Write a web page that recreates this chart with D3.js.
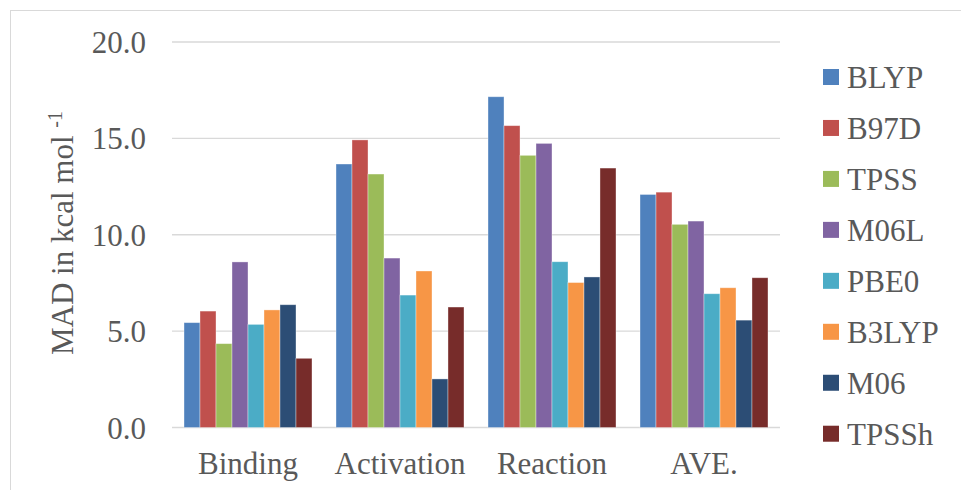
<!DOCTYPE html>
<html>
<head>
<meta charset="utf-8">
<script src="https://cdn.jsdelivr.net/npm/d3@7"></script>
<style>
  #chart text { font-family: "Liberation Serif", "Times New Roman", Times, serif !important; }
</style>
</head>
<body style="margin:0">
<svg id="chart" width="961" height="490"></svg>
<script>
// Mean absolute deviation per functional, by reaction property
const categories = ["Binding", "Activation", "Reaction", "AVE."];
const methods = ["BLYP", "B97D", "TPSS", "M06L", "PBE0", "B3LYP", "M06", "TPSSh"];
const colors = ["#4F81BD", "#C0504D", "#9BBB59", "#8064A2", "#4BACC6", "#F79646", "#2C4D75", "#772C2A"];

const BLYP  = [5.44, 13.67, 17.16, 12.09];
const B97D  = [6.04, 14.92, 15.66, 12.21];
const TPSS  = [4.35, 13.15, 14.12, 10.54];
const M06L  = [8.59, 8.79, 14.74, 10.71];
const PBE0  = [5.35, 6.87, 8.60, 6.94];
const B3LYP = [6.10, 8.12, 7.52, 7.25];
const M06   = [6.37, 2.52, 7.81, 5.57];
const TPSSh = [3.59, 6.25, 13.46, 7.77];

const yTicks = [0, 5, 10, 15, 20];
const yTitle = "MAD in kcal mol";
const yTitleSup = "-1";

const seriesValues = [BLYP, B97D, TPSS, M06L, PBE0, B3LYP, M06, TPSSh];

const serifFont = "Liberation Serif";
const textColor = "#595959";
const fontSize = 31;

// apply the serif face to a text selection, with inline priority
function serif(sel) {
  sel.attr("font-family", serifFont).style("font-family", serifFont, "important");
}

const svg = d3.select("#chart");

// outer chart frame
svg.append("rect")
  .attr("x", 10.5).attr("y", 10.5)
  .attr("width", 1000).attr("height", 600)
  .attr("fill", "none").attr("stroke", "#D9D9D9").attr("stroke-width", 1);

const plot = { left: 172, right: 780, top: 42, bottom: 427.5 };

const x0 = d3.scaleBand().domain(categories)
  .range([plot.left, plot.right]).paddingInner(0.158).paddingOuter(0.079);
const x1 = d3.scaleBand().domain(methods).range([0, x0.bandwidth()]).padding(0);
const y = d3.scaleLinear().domain([0, 20]).range([plot.bottom, plot.top]);

// gridlines
svg.append("g").selectAll("line").data(yTicks).join("line")
  .attr("x1", plot.left).attr("x2", plot.right)
  .attr("y1", d => y(d)).attr("y2", d => y(d))
  .attr("stroke", "#D9D9D9").attr("stroke-width", 1.4);

// bars
const groups = svg.append("g").selectAll("g").data(categories).join("g")
  .attr("transform", d => `translate(${x0(d)},0)`);
groups.selectAll("rect")
  .data((c, ci) => methods.map((m, mi) => ({ m, mi, v: seriesValues[mi][ci] })))
  .join("rect")
  .attr("x", d => x1(d.m))
  .attr("width", x1.bandwidth())
  .attr("y", d => y(d.v))
  .attr("height", d => y(0) - y(d.v))
  .attr("fill", d => colors[d.mi])
  .attr("stroke", "#ffffff").attr("stroke-opacity", 0.45).attr("stroke-width", 0.8);

// y tick labels
const yAxis = d3.axisLeft(y).tickValues(yTicks).tickFormat(d3.format(".1f")).tickSize(0).tickPadding(0);
const gy = svg.append("g").attr("transform", "translate(146,0)").call(yAxis);
gy.select(".domain").remove();
gy.attr("font-family", serifFont).attr("font-size", fontSize);
gy.selectAll("text")
  .call(serif).attr("font-size", fontSize)
  .attr("dy", "0.34em").attr("fill", textColor);

// x axis labels
const xAxis = d3.axisBottom(x0).tickSize(0).tickPadding(0);
const gx = svg.append("g").attr("transform", `translate(0,${plot.bottom})`).call(xAxis);
gx.select(".domain").remove();
gx.attr("font-family", serifFont).attr("font-size", fontSize);
gx.selectAll("text")
  .call(serif).attr("font-size", fontSize)
  .attr("y", 46).attr("dy", 0).attr("fill", textColor);

// y axis title
const title = svg.append("text")
  .attr("transform", "translate(73,233) rotate(-90)")
  .attr("text-anchor", "middle")
  .call(serif).attr("font-size", fontSize).attr("fill", textColor);
title.append("tspan").text(yTitle + " ");
title.append("tspan").attr("font-size", 20).attr("dy", -11).text(yTitleSup);

// legend
const legend = svg.append("g").selectAll("g").data(methods).join("g")
  .attr("transform", (d, i) => `translate(823,${77 + i * 50.96})`);
legend.append("rect")
  .attr("x", 0).attr("y", -8).attr("width", 16).attr("height", 16)
  .attr("fill", (d, i) => colors[i]);
legend.append("text")
  .attr("x", 24).attr("y", 0).attr("dy", "0.35em")
  .call(serif).attr("font-size", fontSize).attr("fill", textColor)
  .text(d => d);
</script>
</body>
</html>
